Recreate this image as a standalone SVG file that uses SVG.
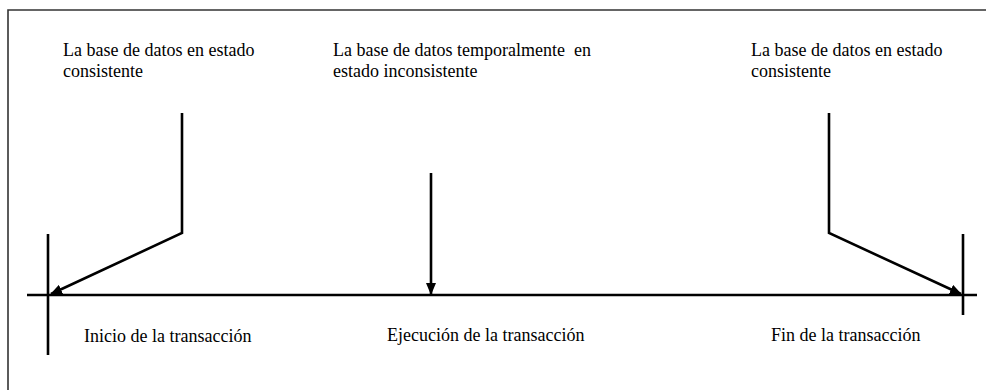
<svg xmlns="http://www.w3.org/2000/svg" width="986" height="390" viewBox="0 0 986 390">
<defs>
<style>
.t{font-family:"Liberation Serif","Times New Roman",serif;font-size:18px;fill:#000;white-space:pre}
.ln{fill:none;stroke:#000;stroke-width:2.6}
.c{fill:none;stroke:#000;stroke-width:2.6;stroke-linejoin:miter;marker-end:url(#ah)}
</style>
<marker id="ah" viewBox="0 0 12 10" refX="11" refY="5" markerWidth="12" markerHeight="10" markerUnits="userSpaceOnUse" orient="auto">
<path d="M0,0 L12,5 L0,10 z" fill="#000"/>
</marker>
</defs>
<rect width="986" height="390" fill="#fff"/>
<path d="M8,390 L8,10 L986,10" fill="none" stroke="#333" stroke-width="1.6"/>
<g id="timeline">
<line class="ln" x1="27" y1="295" x2="977" y2="295"/>
<line class="ln" x1="48" y1="234" x2="48" y2="355"/>
<line class="ln" x1="963" y1="234" x2="963" y2="315"/>
</g>
<g id="connectors">
<path class="c" d="M182,113 L182,233 L51,294"/>
<path class="c" d="M431,173 L431,294"/>
<path class="c" d="M829,113 L829,233 L961,294"/>
</g>
<g id="node-start-state">
<text class="t" x="63" y="56">La base de datos en estado</text>
<text class="t" x="63" y="77">consistente</text>
</g>
<g id="node-mid-state">
<text class="t" x="333" y="56" xml:space="preserve">La base de datos temporalmente  en</text>
<text class="t" x="333" y="77">estado inconsistente</text>
</g>
<g id="node-end-state">
<text class="t" x="751" y="56">La base de datos en estado</text>
<text class="t" x="751" y="77">consistente</text>
</g>
<g id="node-start">
<text class="t" x="84" y="342">Inicio de la transacción</text>
</g>
<g id="node-exec">
<text class="t" x="387" y="341">Ejecución de la transacción</text>
</g>
<g id="node-end">
<text class="t" x="771" y="341">Fin de la transacción</text>
</g>
</svg>
